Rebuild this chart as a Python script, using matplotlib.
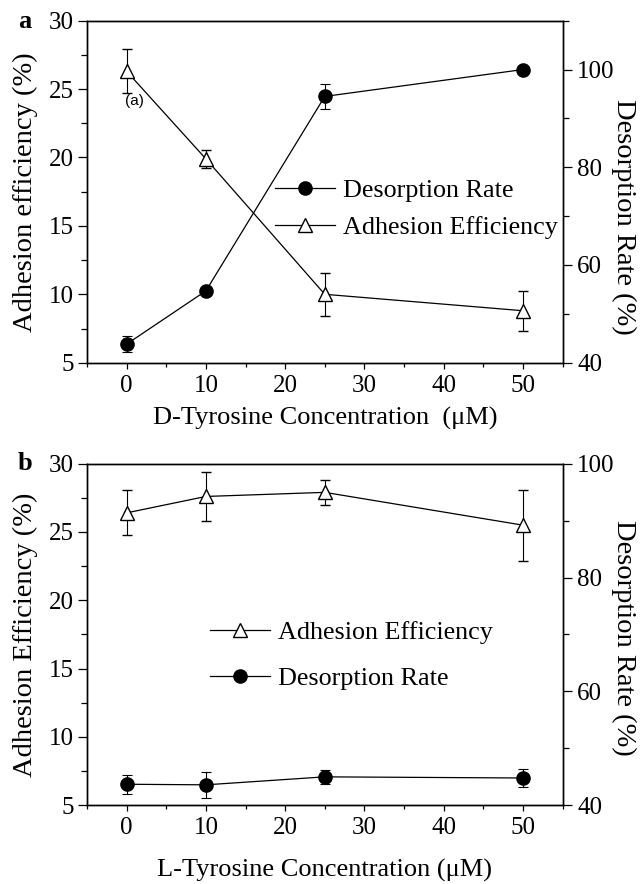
import numpy as np
import matplotlib
matplotlib.use("Agg")
import matplotlib.pyplot as plt
from matplotlib.ticker import MultipleLocator
from matplotlib.lines import Line2D

plt.rcParams['font.family'] = ['Liberation Serif', 'DejaVu Serif']
plt.rcParams['font.size'] = 18
plt.rcParams['axes.linewidth'] = 1.0

# concentrations (uM)
conc = [0, 10, 25, 50]

# panel a: D-Tyrosine
adh_a = [26.3, 19.9, 10.0, 8.8]
adh_a_err = [1.6, 0.65, 1.55, 1.45]
des_a = [43.8, 54.7, 94.5, 100.0]
des_a_err = [1.7, 0.0, 2.5, 0.0]

# panel b: L-Tyrosine
adh_b = [26.4, 27.6, 27.9, 25.5]
adh_b_err = [1.65, 1.8, 0.93, 2.6]
des_b = [43.7, 43.6, 45.0, 44.8]
des_b_err = [1.7, 2.3, 1.2, 1.5]

fig = plt.figure(figsize=(6.42, 8.84), dpi=100)

adh_style = dict(color='black', lw=0.9, marker='^', ms=10, mfc='white',
                 mec='black', mew=1.0)
des_style = dict(color='black', lw=0.9, marker='o', ms=9.5, mfc='black',
                 mec='black')


def style_axes(ax, ax2, rmax, xlabel, ylabel, xlab_y, rlab_y):
    ax.set_xlim(-5, 55)
    ax.set_ylim(5, 30)
    ax2.set_ylim(40, rmax)
    ax.xaxis.set_major_locator(MultipleLocator(10))
    ax.xaxis.set_minor_locator(MultipleLocator(5))
    ax.yaxis.set_major_locator(MultipleLocator(5))
    ax.yaxis.set_minor_locator(MultipleLocator(2.5))
    ax2.yaxis.set_major_locator(MultipleLocator(20))
    ax2.yaxis.set_minor_locator(MultipleLocator(10))
    ax.tick_params(which='both', direction='out', top=False, right=False, width=0.9)
    ax.tick_params(axis='y', which='major', length=6.5, pad=3)
    ax.tick_params(axis='y', which='minor', length=4.5)
    ax.tick_params(axis='x', which='major', length=4.5, pad=4)
    ax.tick_params(axis='x', which='minor', length=3)
    ax2.tick_params(which='both', direction='out', width=0.9)
    ax2.tick_params(which='major', length=6.5, pad=4)
    ax2.tick_params(which='minor', length=4.5)
    ax.set_xlabel(xlabel, va='center', fontsize=19)
    ax.xaxis.set_label_coords(0.5, xlab_y)
    ax.set_ylabel(ylabel, va='center', rotation_mode='anchor', fontsize=20.5)
    ax.yaxis.set_label_coords(-0.130, 0.5)
    ax2.set_ylabel("Desorption Rate (%)", rotation=270, va='center',
                   rotation_mode='anchor', fontsize=20.5)
    ax2.yaxis.set_label_coords(1.129, rlab_y)


def draw_adh(ax, y, e):
    ax.errorbar(conc, y, yerr=e, capsize=3.5, elinewidth=0.8, capthick=0.8,
                zorder=3, **adh_style)


def draw_des(ax, y, e):
    ax.errorbar(conc, y, yerr=e, capsize=3.5, elinewidth=0.8, capthick=0.8,
                zorder=3, **des_style)


h_adh = Line2D([], [], **adh_style)
h_des = Line2D([], [], **des_style)

# ---- panel a ----
ax_a = fig.add_axes([0.1355, 0.5897, 0.7408, 0.3869])
ax_a2 = ax_a.twinx()
draw_adh(ax_a, adh_a, adh_a_err)
draw_des(ax_a2, des_a, des_a_err)
style_axes(ax_a, ax_a2, 110, "D-Tyrosine Concentration  (\u03bcM)",
           "Adhesion efficiency (%)", -0.162, 0.425)
ax_a.text(1, 24.15, "(a)", family='Liberation Sans', fontsize=11,
          ha='center', va='center')
ax_a2.legend([h_des, h_adh], ['Desorption Rate', 'Adhesion Efficiency'],
             loc='upper left', bbox_to_anchor=(0.395, 0.537), frameon=False,
             handlelength=2.3, handletextpad=0.3, labelspacing=0.5,
             borderaxespad=0, borderpad=0, fontsize=18.8)
fig.text(25 / 642, 1 - 22 / 884, "a", fontsize=19, fontweight='bold',
         ha='center', va='center')

# ---- panel b ----
ax_b = fig.add_axes([0.1355, 0.0890, 0.7408, 0.3865])
ax_b2 = ax_b.twinx()
draw_adh(ax_b, adh_b, adh_b_err)
draw_des(ax_b2, des_b, des_b_err)
style_axes(ax_b, ax_b2, 100, "L-Tyrosine Concentration (\u03bcM)",
           "Adhesion Efficiency (%)", -0.19, 0.49)
ax_b2.legend([h_adh, h_des], ['Adhesion Efficiency', 'Desorption Rate'],
             loc='upper left', bbox_to_anchor=(0.2586, 0.539), frameon=False,
             handlelength=2.3, handletextpad=0.3, labelspacing=0.85,
             borderaxespad=0, borderpad=0, fontsize=18.8)
fig.text(25 / 642, 1 - 464 / 884, "b", fontsize=19, fontweight='bold',
         ha='center', va='center')

fig.savefig("out.png", dpi=100)
